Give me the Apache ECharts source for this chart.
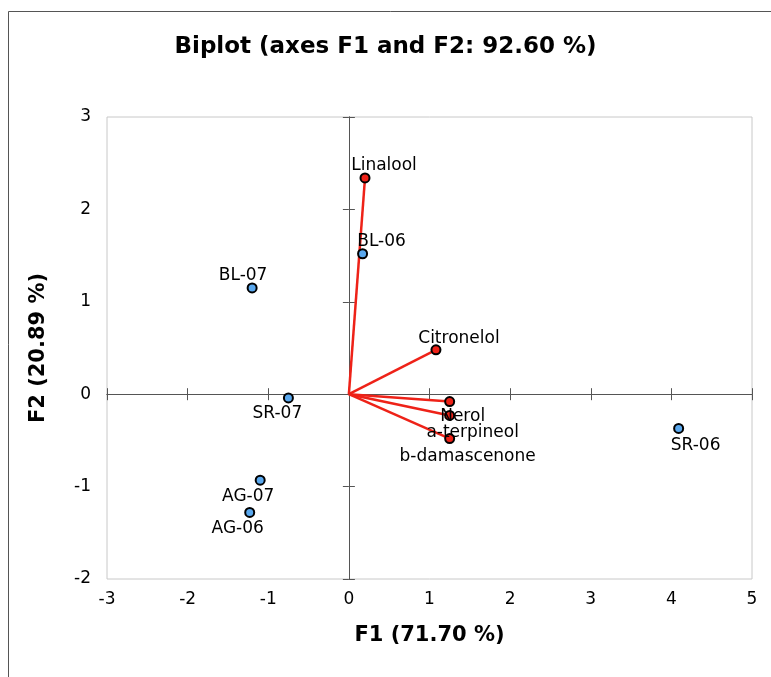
<!DOCTYPE html>
<html><head><meta charset="utf-8">
<script src="https://cdn.jsdelivr.net/npm/echarts@6/dist/echarts.min.js"></script>
<style>html,body{margin:0;padding:0;background:#fff}#c{width:771px;height:677px}</style>
</head><body><div id="c"></div>
<script>
var obsNames = ['BL-06','BL-07','SR-06','SR-07','AG-06','AG-07'];
var obsF1 = [0.17, -1.20, 4.09, -0.75, -1.23, -1.10];
var obsF2 = [1.52, 1.15, -0.37, -0.04, -1.28, -0.93];
var varNames = ['Linalool','Citronelol','Nerol','a-terpineol','b-damascenone'];
var varF1 = [0.20, 1.08, 1.25, 1.25, 1.25];
var varF2 = [2.34, 0.48, -0.08, -0.23, -0.48];
// label offsets [dx, dy] of text centre relative to point (pixels)
var obsLabelOff = [[20,-11],[-8,-11],[18,18],[-10,17],[-11,17],[-11,17]];
var varLabelOff = [[20,-11],[24,-10],[14,16],[24,18],[19,19]];
var xTicks = [-3,-2,-1,0,1,2,3,4,5];
var yTicks = [-2,-1,0,1,2,3];

var font = '"DejaVu Sans", Verdana, sans-serif';
var SYM = 9;
function pts(names, xs, ys, offs){
  return names.map(function(n,i){
    return {name:n, value:[xs[i], ys[i]],
      label:{show:true, formatter:n, position:[SYM/2 + offs[i][0], SYM/2 + offs[i][1]],
        align:'center', verticalAlign:'middle',
        color:'#000', fontSize:17, fontFamily:font, textBorderWidth:0}};
  });
}
var lineData = varNames.map(function(n,i){ return [{coord:[0,0]},{coord:[varF1[i],varF2[i]]}]; });

var tickAxis = function(pos, isX){
  return {type:'value', min: isX ? xTicks[0] : yTicks[0], max: isX ? xTicks[xTicks.length-1] : yTicks[yTicks.length-1],
    interval:1, position:pos,
    axisLine:{show:true, onZero:true, onZeroAxisIndex:0, lineStyle:{color:'#555', width:1}},
    axisTick:{show:true, length:6, lineStyle:{color:'#555'}},
    axisLabel:{show:false}, splitLine:{show:false}};
};
var chart = echarts.init(document.getElementById('c'));
chart.setOption({
  animation:false,
  title:{text:'Biplot (axes F1 and F2: 92.60 %)', left:'center', top:31,
    textStyle:{fontSize:23, fontWeight:'bold', color:'#000', fontFamily:font}},
  graphic:[{type:'rect', shape:{x:8.5,y:11.5,width:800,height:700}, style:{fill:null, stroke:'#555', lineWidth:1}, silent:true}],
  grid:{left:107, right:19, top:117, bottom:98, show:true, borderColor:'#c8c8c8', borderWidth:1, backgroundColor:'transparent'},
  xAxis:[
    {type:'value', min:xTicks[0], max:xTicks[xTicks.length-1], interval:1, position:'bottom',
      name:'F1 (71.70 %)', nameLocation:'middle', nameGap:46,
      nameTextStyle:{fontSize:21, fontWeight:'bold', color:'#000', fontFamily:font},
      axisLine:{show:false}, axisTick:{show:false}, splitLine:{show:false},
      axisLabel:{color:'#000', fontSize:17, margin:12, fontFamily:font}},
    tickAxis('bottom', true),
    tickAxis('top', true)
  ],
  yAxis:[
    {type:'value', min:yTicks[0], max:yTicks[yTicks.length-1], interval:1, position:'left',
      name:'F2 (20.89 %)', nameLocation:'middle', nameGap:58,
      nameTextStyle:{fontSize:21, fontWeight:'bold', color:'#000', fontFamily:font},
      axisLine:{show:false}, axisTick:{show:false}, splitLine:{show:false},
      axisLabel:{color:'#000', fontSize:17, margin:16, fontFamily:font}},
    tickAxis('left', false),
    tickAxis('right', false)
  ],
  series:[
    {type:'scatter', name:'vectors', xAxisIndex:0, yAxisIndex:0, data:[], symbolSize:0,
      markLine:{silent:true, symbol:['none','none'], label:{show:false},
        lineStyle:{color:'#ee2218', width:2.5, type:'solid', opacity:1}, data:lineData}},
    {type:'scatter', name:'Observations', xAxisIndex:0, yAxisIndex:0, symbol:'circle', symbolSize:SYM,
      itemStyle:{color:'#5aa8ee', borderColor:'#000', borderWidth:2, opacity:1}, z:5,
      data:pts(obsNames, obsF1, obsF2, obsLabelOff)},
    {type:'scatter', name:'Variables', xAxisIndex:0, yAxisIndex:0, symbol:'circle', symbolSize:SYM,
      itemStyle:{color:'#ee2218', borderColor:'#000', borderWidth:2, opacity:1}, z:5,
      data:pts(varNames, varF1, varF2, varLabelOff)}
  ]
});
</script></body></html>
